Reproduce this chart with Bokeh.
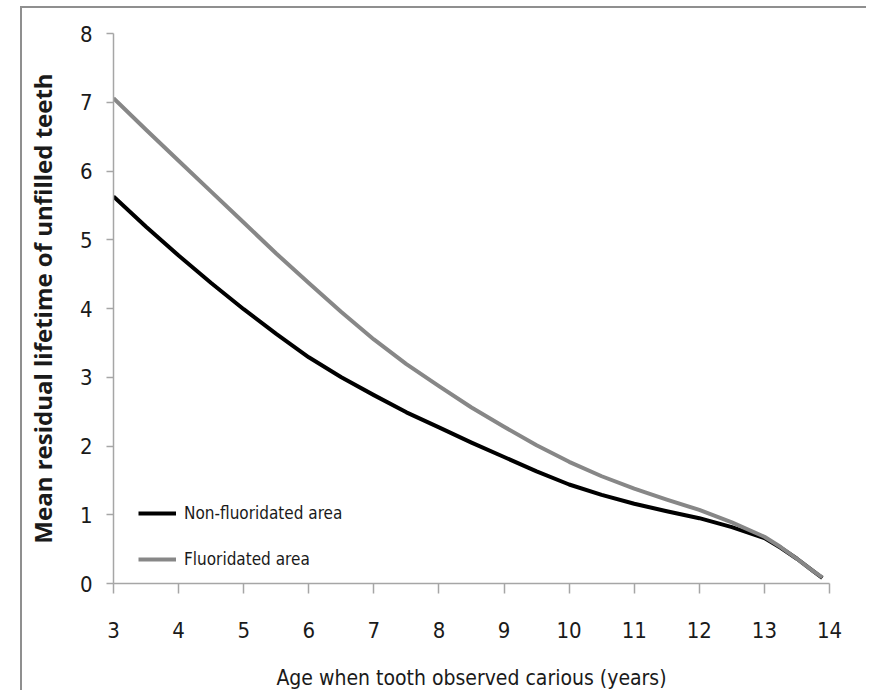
from bokeh.plotting import figure
from bokeh.models import Range1d, FixedTicker, Legend, LegendItem
from bokeh.embed import file_html
from bokeh.resources import INLINE

# Data
age = [3.0, 3.5, 4.0, 4.5, 5.0, 5.5, 6.0, 6.5, 7.0, 7.5, 8.0, 8.5, 9.0, 9.5,
       10.0, 10.5, 11.0, 11.5, 12.0, 12.5, 13.0, 13.25, 13.5, 13.75, 13.89]
non_fluoridated = [5.63, 5.19, 4.77, 4.37, 3.99, 3.63, 3.29, 3.00, 2.74, 2.49, 2.27, 2.05,
                   1.84, 1.63, 1.44, 1.29, 1.16, 1.05, 0.95, 0.82, 0.66, 0.52, 0.36, 0.18, 0.08]
fluoridated = [7.06, 6.60, 6.15, 5.70, 5.25, 4.80, 4.37, 3.95, 3.55, 3.19, 2.87, 2.56,
               2.28, 2.01, 1.77, 1.56, 1.38, 1.22, 1.07, 0.89, 0.68, 0.53, 0.36, 0.18, 0.09]
x_ticks = [3, 4, 5, 6, 7, 8, 9, 10, 11, 12, 13, 14]
y_ticks = [0, 1, 2, 3, 4, 5, 6, 7, 8]
series_names = ["Non-fluoridated area", "Fluoridated area"]
x_title = "Age when tooth observed carious (years)"
y_title = "Mean residual lifetime of unfilled teeth"

NARROW = "'DejaVu Sans Condensed', 'Liberation Sans Narrow', 'Liberation Sans', sans-serif"

p = figure(width=846, height=684, output_backend="svg", toolbar_location=None,
           x_range=Range1d(3, 14), y_range=Range1d(0, 8),
           min_border_left=90, min_border_right=39, min_border_top=25, min_border_bottom=107,
           margin=(6, 0, 0, 20),
           styles={"border-top": "2px solid #8f8f8f", "border-left": "2px solid #8f8f8f"})
p.outline_line_color = None
p.xgrid.visible = False
p.ygrid.visible = False
p.background_fill_color = "white"

r1 = p.line(age, non_fluoridated, line_color="black", line_width=4, line_join="round")
r2 = p.line(age, fluoridated, line_color="#878787", line_width=4, line_join="round")

for ax in (p.xaxis[0], p.yaxis[0]):
    ax.axis_line_color = "#a6a6a6"
    ax.axis_line_width = 1.5
    ax.major_tick_line_color = "#a6a6a6"
    ax.major_tick_line_width = 1.5
    ax.minor_tick_line_color = None
    ax.major_tick_in = 0
    ax.major_label_text_font = NARROW
    ax.major_label_text_font_size = "22px"
    ax.major_label_text_color = "#1a1a1a"
    ax.axis_label_text_color = "#1a1a1a"

p.xaxis[0].ticker = FixedTicker(ticks=x_ticks)
p.yaxis[0].ticker = FixedTicker(ticks=y_ticks)
p.xaxis[0].major_tick_out = 10
p.yaxis[0].major_tick_out = 7
p.xaxis[0].major_label_standoff = 28
p.yaxis[0].major_label_standoff = 14

p.xaxis[0].axis_label = x_title
p.xaxis[0].axis_label_text_font = NARROW
p.xaxis[0].axis_label_text_font_size = "21px"
p.xaxis[0].axis_label_text_font_style = "normal"
p.xaxis[0].axis_label_standoff = 25

p.yaxis[0].axis_label = y_title
p.yaxis[0].axis_label_text_font = "Open Sans"
p.yaxis[0].axis_label_text_font_size = "24px"
p.yaxis[0].axis_label_text_font_style = "bold"
p.yaxis[0].axis_label_standoff = 18

legend = Legend(items=[LegendItem(label=series_names[0], renderers=[r1]),
                       LegendItem(label=series_names[1], renderers=[r2])],
                location=(25, 14), orientation="vertical")
legend.background_fill_alpha = 0
legend.border_line_color = None
legend.padding = 0
legend.margin = 0
legend.glyph_width = 38
legend.glyph_height = 20
legend.label_height = 20
legend.spacing = 26
legend.label_standoff = 8
legend.label_text_font = NARROW
legend.label_text_font_size = "17px"
legend.label_text_color = "#1a1a1a"
p.add_layout(legend)

open("out.html", "w").write(file_html(p, INLINE))
